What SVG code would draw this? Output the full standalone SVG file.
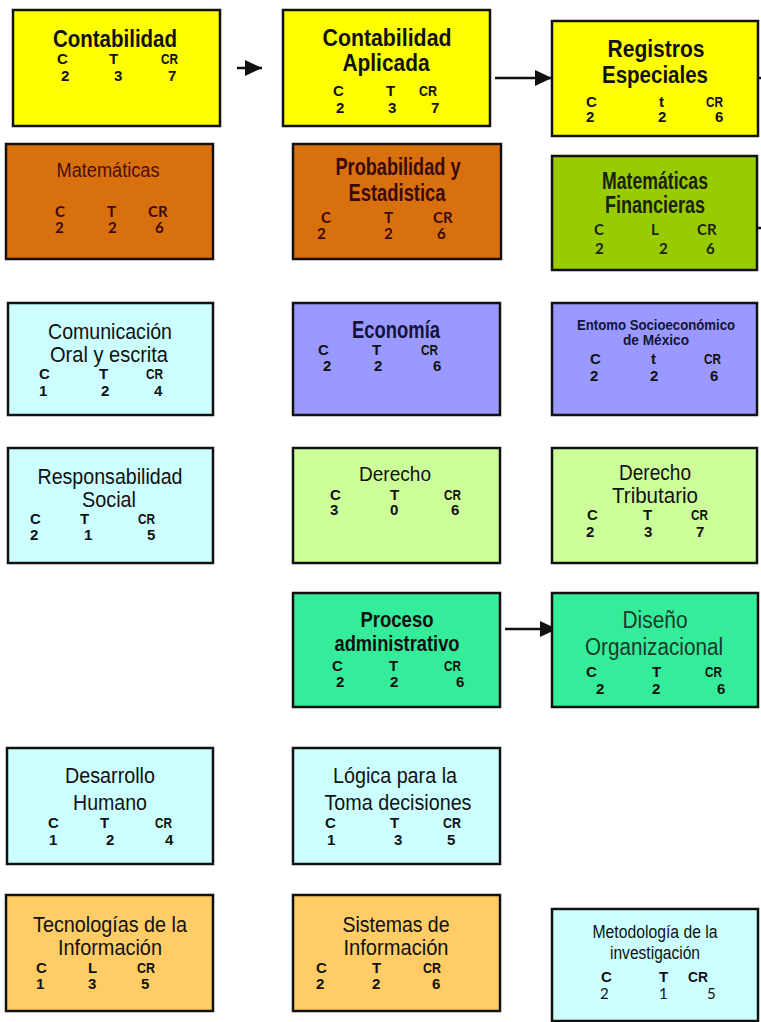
<svg xmlns="http://www.w3.org/2000/svg" width="761" height="1022" viewBox="0 0 761 1022">
<style>
.box{stroke:#111;stroke-width:2.5}
.yel{fill:#FFFF00}.org{fill:#D8700E}.ygr{fill:#99CC00}.cyn{fill:#CCFFFF}
.per{fill:#9999FF}.lgr{fill:#CCFF99}.mnt{fill:#35EC9B}.lor{fill:#FFCC66}
.tb{font-family:"Liberation Sans Narrow","Liberation Sans",Arial,sans-serif;font-weight:bold;font-size:24px;fill:#111;text-anchor:middle}
.tr{font-family:"Liberation Sans Narrow","Liberation Sans",Arial,sans-serif;font-weight:normal;font-size:22px;fill:#111;text-anchor:middle}
.lb{font-family:"Liberation Sans Narrow","Liberation Sans",Arial,sans-serif;font-weight:bold;font-size:15px;fill:#111}
.lc{font-family:Lato,"Open Sans",sans-serif;font-weight:bold;font-size:15px;fill:#3a0a0a}
.ln{font-family:Lato,"Open Sans",sans-serif;font-weight:normal;font-size:15px;fill:#111}
.con{stroke:#111;stroke-width:2.5;fill:none}
</style>
<defs>
<marker id="ah" markerUnits="userSpaceOnUse" markerWidth="18" markerHeight="16" refX="17" refY="8" orient="auto">
<path d="M0,0 L17,8 L0,16 Z" fill="#111"/>
</marker>
</defs>
<rect width="761" height="1022" fill="#fff"/>

<g id="connectors">
<line class="con" x1="237" y1="68" x2="262" y2="68" marker-end="url(#ah)"/>
<line class="con" x1="495" y1="78" x2="552" y2="78" marker-end="url(#ah)"/>
<line class="con" x1="505" y1="629" x2="557" y2="629" marker-end="url(#ah)"/>
<line class="con" x1="758" y1="78" x2="761" y2="78"/>
<line class="con" x1="757" y1="228" x2="761" y2="228"/>
</g>

<g id="n-contabilidad">
<rect class="box yel" x="13" y="10" width="207" height="116"/>
<text class="tb" x="115" y="47" textLength="124" lengthAdjust="spacingAndGlyphs">Contabilidad</text>
<text class="lb" x="57" y="64">C</text><text class="lb" x="109" y="64">T</text><text class="lb" x="161" y="64" textLength="17" lengthAdjust="spacingAndGlyphs">CR</text>
<text class="lb" x="61" y="81">2</text><text class="lb" x="114" y="81">3</text><text class="lb" x="168" y="81">7</text>
</g>

<g id="n-contabilidad-aplicada">
<rect class="box yel" x="283" y="10" width="207" height="116"/>
<text class="tb" x="387" y="46" textLength="129" lengthAdjust="spacingAndGlyphs">Contabilidad</text>
<text class="tb" x="386" y="71" textLength="87" lengthAdjust="spacingAndGlyphs">Aplicada</text>
<text class="lb" x="333" y="96">C</text><text class="lb" x="386" y="96">T</text><text class="lb" x="419" y="96" textLength="18" lengthAdjust="spacingAndGlyphs">CR</text>
<text class="lb" x="336" y="113">2</text><text class="lb" x="388" y="113">3</text><text class="lb" x="431" y="113">7</text>
</g>

<g id="n-registros-especiales">
<rect class="box yel" x="552" y="21" width="206" height="115"/>
<text class="tb" x="656" y="57" textLength="97" lengthAdjust="spacingAndGlyphs">Registros</text>
<text class="tb" x="655" y="83" textLength="106" lengthAdjust="spacingAndGlyphs">Especiales</text>
<text class="lb" x="586" y="107">C</text><text class="lb" x="659" y="107">t</text><text class="lb" x="706" y="107" textLength="17" lengthAdjust="spacingAndGlyphs">CR</text>
<text class="lb" x="586" y="122">2</text><text class="lb" x="658" y="122">2</text><text class="lb" x="715" y="122">6</text>
</g>

<g id="n-matematicas">
<rect class="box org" x="6" y="144" width="207" height="115"/>
<text class="tr" x="108" y="177" textLength="103" lengthAdjust="spacingAndGlyphs" style="fill:#4a0e0e;font-size:20px">Matemáticas</text>
<text class="lc" x="55" y="217">C</text><text class="lc" x="107" y="217">T</text><text class="lc" x="148" y="217">CR</text>
<text class="lc" x="55" y="233">2</text><text class="lc" x="108" y="233">2</text><text class="lc" x="155" y="233">6</text>
</g>

<g id="n-probabilidad">
<rect class="box org" x="293" y="144" width="208" height="115"/>
<text class="tb" x="398" y="175" textLength="125" lengthAdjust="spacingAndGlyphs" style="fill:#3a0a0a;font-size:23px">Probabilidad y</text>
<text class="tb" x="397" y="201" textLength="97" lengthAdjust="spacingAndGlyphs" style="fill:#3a0a0a;font-size:23px">Estadistica</text>
<text class="lc" x="321" y="223">C</text><text class="lc" x="384" y="223">T</text><text class="lc" x="433" y="223">CR</text>
<text class="lc" x="317" y="239">2</text><text class="lc" x="384" y="239">2</text><text class="lc" x="437" y="239">6</text>
</g>

<g id="n-matematicas-financieras">
<rect class="box ygr" x="552" y="156" width="205" height="114"/>
<text class="tb" x="655" y="189" textLength="106" lengthAdjust="spacingAndGlyphs" style="fill:#1a2208;font-size:23px">Matemáticas</text>
<text class="tb" x="655" y="213" textLength="100" lengthAdjust="spacingAndGlyphs" style="fill:#1a2208;font-size:23px">Financieras</text>
<text class="lc" x="594" y="235" style="fill:#1a2208">C</text><text class="lc" x="651" y="235" style="fill:#1a2208">L</text><text class="lc" x="697" y="235" style="fill:#1a2208">CR</text>
<text class="lc" x="595" y="254" style="fill:#1a2208">2</text><text class="lc" x="659" y="254" style="fill:#1a2208">2</text><text class="lc" x="706" y="254" style="fill:#1a2208">6</text>
</g>

<g id="n-comunicacion">
<rect class="box cyn" x="8" y="303" width="205" height="112"/>
<text class="tr" x="110" y="339" textLength="124" lengthAdjust="spacingAndGlyphs">Comunicación</text>
<text class="tr" x="109" y="362" textLength="118" lengthAdjust="spacingAndGlyphs">Oral y escrita</text>
<text class="lb" x="39" y="379">C</text><text class="lb" x="99" y="379">T</text><text class="lb" x="146" y="379" textLength="17" lengthAdjust="spacingAndGlyphs">CR</text>
<text class="lb" x="39" y="396">1</text><text class="lb" x="101" y="396">2</text><text class="lb" x="154" y="396">4</text>
</g>

<g id="n-economia">
<rect class="box per" x="293" y="303" width="207" height="112"/>
<text class="tb" x="396" y="338" textLength="88" lengthAdjust="spacingAndGlyphs" style="fill:#14143a;font-size:23px">Economía</text>
<text class="lb" x="318" y="355">C</text><text class="lb" x="372" y="355">T</text><text class="lb" x="421" y="355" textLength="17" lengthAdjust="spacingAndGlyphs">CR</text>
<text class="lb" x="323" y="371">2</text><text class="lb" x="374" y="371">2</text><text class="lb" x="433" y="371">6</text>
</g>

<g id="n-entorno">
<rect class="box per" x="552" y="303" width="205" height="112"/>
<text class="tb" x="656" y="330" textLength="158" lengthAdjust="spacingAndGlyphs" style="font-size:15px;fill:#14143a">Entomo Socioeconómico</text>
<text class="tb" x="656" y="345" textLength="66" lengthAdjust="spacingAndGlyphs" style="font-size:15px;fill:#14143a">de México</text>
<text class="lb" x="590" y="364">C</text><text class="lb" x="651" y="364">t</text><text class="lb" x="704" y="364" textLength="17" lengthAdjust="spacingAndGlyphs">CR</text>
<text class="lb" x="590" y="381">2</text><text class="lb" x="650" y="381">2</text><text class="lb" x="710" y="381">6</text>
</g>

<g id="n-responsabilidad">
<rect class="box cyn" x="8" y="448" width="205" height="115"/>
<text class="tr" x="110" y="484" textLength="145" lengthAdjust="spacingAndGlyphs">Responsabilidad</text>
<text class="tr" x="109" y="507" textLength="54" lengthAdjust="spacingAndGlyphs">Social</text>
<text class="lb" x="30" y="524">C</text><text class="lb" x="80" y="524">T</text><text class="lb" x="138" y="524" textLength="17" lengthAdjust="spacingAndGlyphs">CR</text>
<text class="lb" x="30" y="540">2</text><text class="lb" x="84" y="540">1</text><text class="lb" x="147" y="540">5</text>
</g>

<g id="n-derecho">
<rect class="box lgr" x="293" y="448" width="207" height="115"/>
<text class="tr" x="395" y="481" textLength="72" lengthAdjust="spacingAndGlyphs" style="font-size:21px">Derecho</text>
<text class="lb" x="330" y="500">C</text><text class="lb" x="390" y="500">T</text><text class="lb" x="444" y="500" textLength="17" lengthAdjust="spacingAndGlyphs">CR</text>
<text class="lb" x="330" y="515">3</text><text class="lb" x="390" y="515">0</text><text class="lb" x="451" y="515">6</text>
</g>

<g id="n-derecho-tributario">
<rect class="box lgr" x="552" y="448" width="205" height="115"/>
<text class="tr" x="655" y="480" textLength="72" lengthAdjust="spacingAndGlyphs">Derecho</text>
<text class="tr" x="655" y="503" textLength="86" lengthAdjust="spacingAndGlyphs">Tributario</text>
<text class="lb" x="587" y="520">C</text><text class="lb" x="643" y="520">T</text><text class="lb" x="691" y="520" textLength="17" lengthAdjust="spacingAndGlyphs">CR</text>
<text class="lb" x="586" y="537">2</text><text class="lb" x="644" y="537">3</text><text class="lb" x="696" y="537">7</text>
</g>

<g id="n-proceso-administrativo">
<rect class="box mnt" x="293" y="593" width="207" height="114"/>
<text class="tb" x="397" y="627" textLength="73" lengthAdjust="spacingAndGlyphs" style="font-size:22px">Proceso</text>
<text class="tb" x="397" y="651" textLength="125" lengthAdjust="spacingAndGlyphs" style="font-size:22px">administrativo</text>
<text class="lb" x="332" y="671">C</text><text class="lb" x="389" y="671">T</text><text class="lb" x="444" y="671" textLength="17" lengthAdjust="spacingAndGlyphs">CR</text>
<text class="lb" x="336" y="687">2</text><text class="lb" x="390" y="687">2</text><text class="lb" x="456" y="687">6</text>
</g>

<g id="n-diseno-organizacional">
<rect class="box mnt" x="552" y="593" width="206" height="114"/>
<text class="tr" x="655" y="628" textLength="65" lengthAdjust="spacingAndGlyphs" style="font-size:23px;fill:#1a3a2a">Diseño</text>
<text class="tr" x="654" y="655" textLength="138" lengthAdjust="spacingAndGlyphs" style="font-size:23px;fill:#1a3a2a">Organizacional</text>
<text class="lb" x="586" y="677">C</text><text class="lb" x="652" y="677">T</text><text class="lb" x="705" y="677" textLength="17" lengthAdjust="spacingAndGlyphs">CR</text>
<text class="lb" x="596" y="694">2</text><text class="lb" x="652" y="694">2</text><text class="lb" x="717" y="694">6</text>
</g>

<g id="n-desarrollo-humano">
<rect class="box cyn" x="7" y="748" width="206" height="116"/>
<text class="tr" x="110" y="783" textLength="90" lengthAdjust="spacingAndGlyphs">Desarrollo</text>
<text class="tr" x="110" y="810" textLength="74" lengthAdjust="spacingAndGlyphs">Humano</text>
<text class="lb" x="48" y="828">C</text><text class="lb" x="100" y="828">T</text><text class="lb" x="155" y="828" textLength="17" lengthAdjust="spacingAndGlyphs">CR</text>
<text class="lb" x="49" y="845">1</text><text class="lb" x="106" y="845">2</text><text class="lb" x="165" y="845">4</text>
</g>

<g id="n-logica">
<rect class="box cyn" x="293" y="748" width="207" height="116"/>
<text class="tr" x="395" y="783" textLength="124" lengthAdjust="spacingAndGlyphs">Lógica para la</text>
<text class="tr" x="398" y="810" textLength="147" lengthAdjust="spacingAndGlyphs">Toma decisiones</text>
<text class="lb" x="325" y="828">C</text><text class="lb" x="390" y="828">T</text><text class="lb" x="443" y="828" textLength="18" lengthAdjust="spacingAndGlyphs">CR</text>
<text class="lb" x="327" y="845">1</text><text class="lb" x="394" y="845">3</text><text class="lb" x="447" y="845">5</text>
</g>

<g id="n-tecnologias">
<rect class="box lor" x="6" y="895" width="207" height="116"/>
<text class="tr" x="110" y="932" textLength="154" lengthAdjust="spacingAndGlyphs">Tecnologías de la</text>
<text class="tr" x="110" y="955" textLength="104" lengthAdjust="spacingAndGlyphs">Información</text>
<text class="lb" x="36" y="973">C</text><text class="lb" x="88" y="973">L</text><text class="lb" x="137" y="973" textLength="18" lengthAdjust="spacingAndGlyphs">CR</text>
<text class="lb" x="36" y="989">1</text><text class="lb" x="88" y="989">3</text><text class="lb" x="141" y="989">5</text>
</g>

<g id="n-sistemas">
<rect class="box lor" x="293" y="895" width="207" height="116"/>
<text class="tr" x="396" y="932" textLength="107" lengthAdjust="spacingAndGlyphs">Sistemas de</text>
<text class="tr" x="396" y="955" textLength="105" lengthAdjust="spacingAndGlyphs">Información</text>
<text class="lb" x="316" y="973">C</text><text class="lb" x="372" y="973">T</text><text class="lb" x="423" y="973" textLength="18" lengthAdjust="spacingAndGlyphs">CR</text>
<text class="lb" x="316" y="989">2</text><text class="lb" x="372" y="989">2</text><text class="lb" x="432" y="989">6</text>
</g>

<g id="n-metodologia">
<rect class="box cyn" x="552" y="909" width="206" height="112"/>
<text class="tr" x="655" y="938" textLength="125" lengthAdjust="spacingAndGlyphs" style="font-size:18px">Metodología de la</text>
<text class="tr" x="655" y="959" textLength="90" lengthAdjust="spacingAndGlyphs" style="font-size:18px">investigación</text>
<text class="lb" x="601" y="982">C</text><text class="lb" x="659" y="982">T</text><text class="lb" x="688" y="982" textLength="20" lengthAdjust="spacingAndGlyphs">CR</text>
<text class="ln" x="600" y="999">2</text><text class="ln" x="659" y="999">1</text><text class="ln" x="707" y="999">5</text>
</g>
</svg>
